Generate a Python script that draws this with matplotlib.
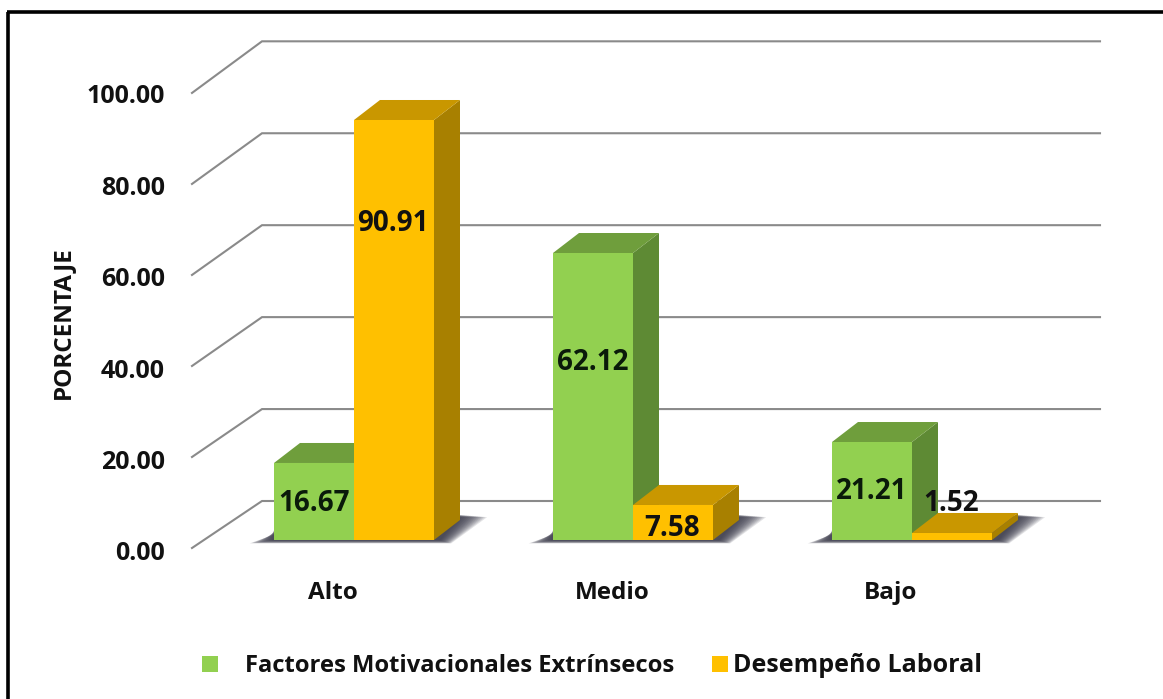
import matplotlib
matplotlib.use('Agg')
import matplotlib.pyplot as plt
import numpy as np

plt.rcParams['font.family'] = ['Open Sans', 'DejaVu Sans']
plt.rcParams['font.weight'] = 'bold'

categories = ['Alto', 'Medio', 'Bajo']
factores = [16.67, 62.12, 21.21]
desempeno = [90.91, 7.58, 1.52]
ticks = [0, 20, 40, 60, 80, 100]
series_names = ['Factores Motivacionales Extrínsecos', 'Desempeño Laboral']
ylabel = 'PORCENTAJE'

GREEN = ('#92D050', '#6F9E3C', '#5E8A34')
ORANGE = ('#FFC000', '#C99700', '#A88000')

# scale of the picture: pixels per category and per percent
W, H = 1163, 699
PX_CAT = 279.0
PX_VAL = 4.62
X0, Y0 = 354, 540  # pixel of first cluster centre, bar base

fig = plt.figure(figsize=(W / 100, H / 100), dpi=100)
ax = fig.add_axes([0, 0, 1, 1])
ax.set_xlim(-X0 / PX_CAT, (W - X0) / PX_CAT)
ax.set_ylim((Y0 - H) / PX_VAL, Y0 / PX_VAL)
ax.axis('off')


def dx(px):
    return px / PX_CAT


def dy(px):
    return px / PX_VAL


bar_w = dx(80)
depth_x = dx(26)
depth_y = dy(20)

# frame, only left and top show in the crop
ax.plot([dx(8.5) - X0 / PX_CAT] * 2, [(Y0 - H) / PX_VAL, dy(Y0 - 11.5)], color='black', lw=2.6, solid_capstyle='butt')
ax.plot([dx(7) - X0 / PX_CAT, (W - X0) / PX_CAT], [dy(Y0 - 11.5)] * 2, color='black', lw=2.6, solid_capstyle='butt')

# gridlines on wall and floor
for t in ticks:
    xs = [dx(192 - X0), dx(262 - X0), dx(1100 - X0)]
    ys = [t * 0.985 - dy(8), t * 0.995 + dy(39), t * 0.995 + dy(39)]
    ax.plot(xs, ys, color='#8A8A8A', lw=1.5, solid_joinstyle='miter', zorder=1)
    ax.text(dx(165 - X0), t * 0.99 - dy(14), '%.2f' % t, ha='right', va='center', fontsize=18, color='#111111', zorder=5)

ax.text(dx(63 - X0), dy(Y0 - 323), ylabel, rotation=90, ha='center', va='center', fontsize=17.5, color='#111111')


def shadow(x_left, x_right):
    # soft dark shadow under a cluster, many thin layers for blur
    for grow in range(0, 15):
        far = 28 + 1.8 * grow
        low = -dy(0.3 + grow * 0.22)
        high = dy(25 - grow * 0.15)
        ax.fill([x_left - dx(2 + 1.6 * grow), x_right + dx(6 + 0.8 * grow), x_right + dx(far), x_right + dx(far - 24), x_left],
                [low, low, high, high, dy(10 - grow * 0.35)],
                color='#3A3A4A', alpha=0.14, lw=0, zorder=2)


def bar3d(x, v, cols):
    front, top, side = cols
    ax.fill([x + bar_w, x + bar_w + depth_x, x + bar_w + depth_x, x + bar_w],
            [0, depth_y, v + depth_y, v], color=side, lw=0, zorder=3)
    ax.fill([x, x + depth_x, x + bar_w + depth_x, x + bar_w],
            [v, v + depth_y, v + depth_y, v], color=top, lw=0, zorder=3)
    ax.bar(x, v, width=bar_w, align='edge', color=front, lw=0, zorder=3)


for i in range(len(categories)):
    shadow(i - bar_w, i + bar_w)
    bar3d(i - bar_w, factores[i], GREEN)
    bar3d(i, desempeno[i], ORANGE)
    ax.text(i - dx(21), dy(Y0 - 593), categories[i], ha='center', va='center', fontsize=17.5, color='#111111', zorder=5)

# data labels sit where the original left them
label_y_f = [8.0, 38.4, 10.4]
label_y_d = [68.5, 2.5, 7.8]
for i in range(len(categories)):
    ax.text(i - dx(40), label_y_f[i], '%.2f' % factores[i], ha='center', va='center', fontsize=20, color='#0A1A0A', zorder=6)
    ax.text(i + dx(39), label_y_d[i], '%.2f' % desempeno[i], ha='center', va='center', fontsize=20, color='#111111', zorder=6)

# legend
leg_y = dy(Y0 - 666)
ax.scatter([dx(210 - X0)], [leg_y + dy(2)], marker='s', s=130, color=GREEN[0], lw=0, zorder=5)
ax.scatter([dx(720 - X0)], [leg_y + dy(2)], marker='s', s=130, color=ORANGE[0], lw=0, zorder=5)
ax.text(dx(245 - X0), leg_y, series_names[0], ha='left', va='center', fontsize=17.1, color='#111111')
ax.text(dx(733 - X0), leg_y, series_names[1], ha='left', va='center', fontsize=18, color='#111111')

fig.savefig('out.png', dpi=100)
